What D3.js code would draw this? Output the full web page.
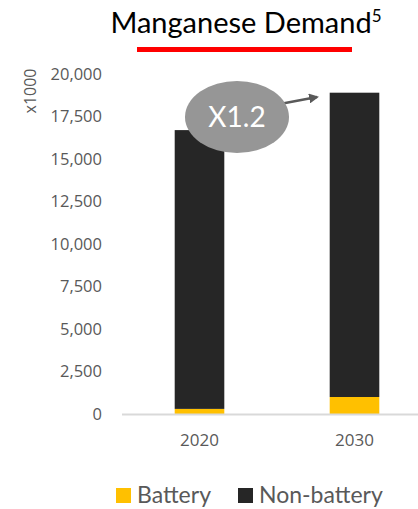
<!DOCTYPE html>
<html><head><meta charset="utf-8">
<script src="https://cdn.jsdelivr.net/npm/d3@7"></script>
<style>body{margin:0;background:#fff;}svg{display:block;}</style>
</head><body>
<script>
const categories = ["2020", "2030"];
const battery = [300, 1000];
const nonBattery = [16400, 17900];
const yTicks = [0, 2500, 5000, 7500, 10000, 12500, 15000, 17500, 20000];
const seriesNames = ["Battery", "Non-battery"];
const colors = ["#FFC000", "#262626"];

const W = 418, H = 509;
const svg = d3.select("body").append("svg").attr("width", W).attr("height", H);

const y = d3.scaleLinear().domain([0, 20000]).range([414, 74]);
const x = d3.scaleBand().domain(categories).range([122, 432]).paddingInner(0.68).paddingOuter(0.34);

// title
const title = svg.append("text").attr("x", 246).attr("y", 33).attr("text-anchor", "middle")
  .attr("font-family", "Lato, 'Open Sans', sans-serif").attr("font-size", 29).attr("fill", "#000");
title.append("tspan").text("Manganese Demand");
title.append("tspan").attr("dy", -11).attr("font-size", 17).text("5");
svg.append("rect").attr("x", 137).attr("y", 47).attr("width", 215).attr("height", 5).attr("fill", "#FF0000");

// y axis labels
const yAxis = d3.axisLeft(y).tickValues(yTicks).tickSize(0).tickPadding(0).tickFormat(d3.format(","));
const ya = svg.append("g").attr("transform", "translate(102,0)").call(yAxis);
ya.select(".domain").remove();
ya.selectAll("text").attr("font-family", "'Open Sans', sans-serif").attr("font-size", 16.5).attr("fill", "#595959");

svg.append("text").attr("transform", "translate(36,91) rotate(-90)").attr("text-anchor", "middle")
  .attr("font-family", "'Open Sans', sans-serif").attr("font-size", 16).attr("fill", "#595959").text("x1000");

// bars
const stackData = categories.map((c, i) => ({cat: c, Battery: battery[i], "Non-battery": nonBattery[i]}));
const stack = d3.stack().keys(seriesNames)(stackData);
svg.append("g").selectAll("g").data(stack).join("g")
  .attr("fill", (d, i) => colors[i])
  .selectAll("rect").data(d => d).join("rect")
  .attr("x", d => x(d.data.cat)).attr("width", x.bandwidth())
  .attr("y", d => y(d[1])).attr("height", d => y(d[0]) - y(d[1]));

// x axis
svg.append("line").attr("x1", 122).attr("x2", 418).attr("y1", 414.5).attr("y2", 414.5)
  .attr("stroke", "#d9d9d9").attr("stroke-width", 2);
const xa = svg.append("g").attr("transform", "translate(0,414)").call(d3.axisBottom(x).tickSize(0).tickPadding(20));
xa.select(".domain").remove();
xa.selectAll("text").attr("font-family", "'Open Sans', sans-serif").attr("font-size", 17).attr("fill", "#595959");

// annotation
svg.append("defs").append("marker").attr("id", "ah").attr("viewBox", "0 0 10 10").attr("refX", 8).attr("refY", 5)
  .attr("markerWidth", 4).attr("markerHeight", 4).attr("orient", "auto")
  .append("path").attr("d", "M0,0 L10,5 L0,10 z").attr("fill", "#595959");
svg.append("line").attr("x1", 280).attr("y1", 104).attr("x2", 317).attr("y2", 97)
  .attr("stroke", "#595959").attr("stroke-width", 2.5).attr("marker-end", "url(#ah)");
svg.append("ellipse").attr("cx", 237).attr("cy", 117).attr("rx", 52).attr("ry", 36).attr("fill", "#969696");
svg.append("text").attr("x", 237).attr("y", 127).attr("text-anchor", "middle")
  .attr("font-family", "Lato, 'Open Sans', sans-serif").attr("font-size", 28).attr("fill", "#fff").text("X1.2");

// legend
const lg = svg.append("g");
const lx = [116, 238];
seriesNames.forEach((n, i) => {
  lg.append("rect").attr("x", lx[i]).attr("y", 488).attr("width", 15).attr("height", 15).attr("fill", colors[i]);
  lg.append("text").attr("x", lx[i] + 21).attr("y", 503).attr("font-family", "Lato, 'Open Sans', sans-serif")
    .attr("font-size", 23).attr("fill", "#595959").text(n);
});
</script>
</body></html>
